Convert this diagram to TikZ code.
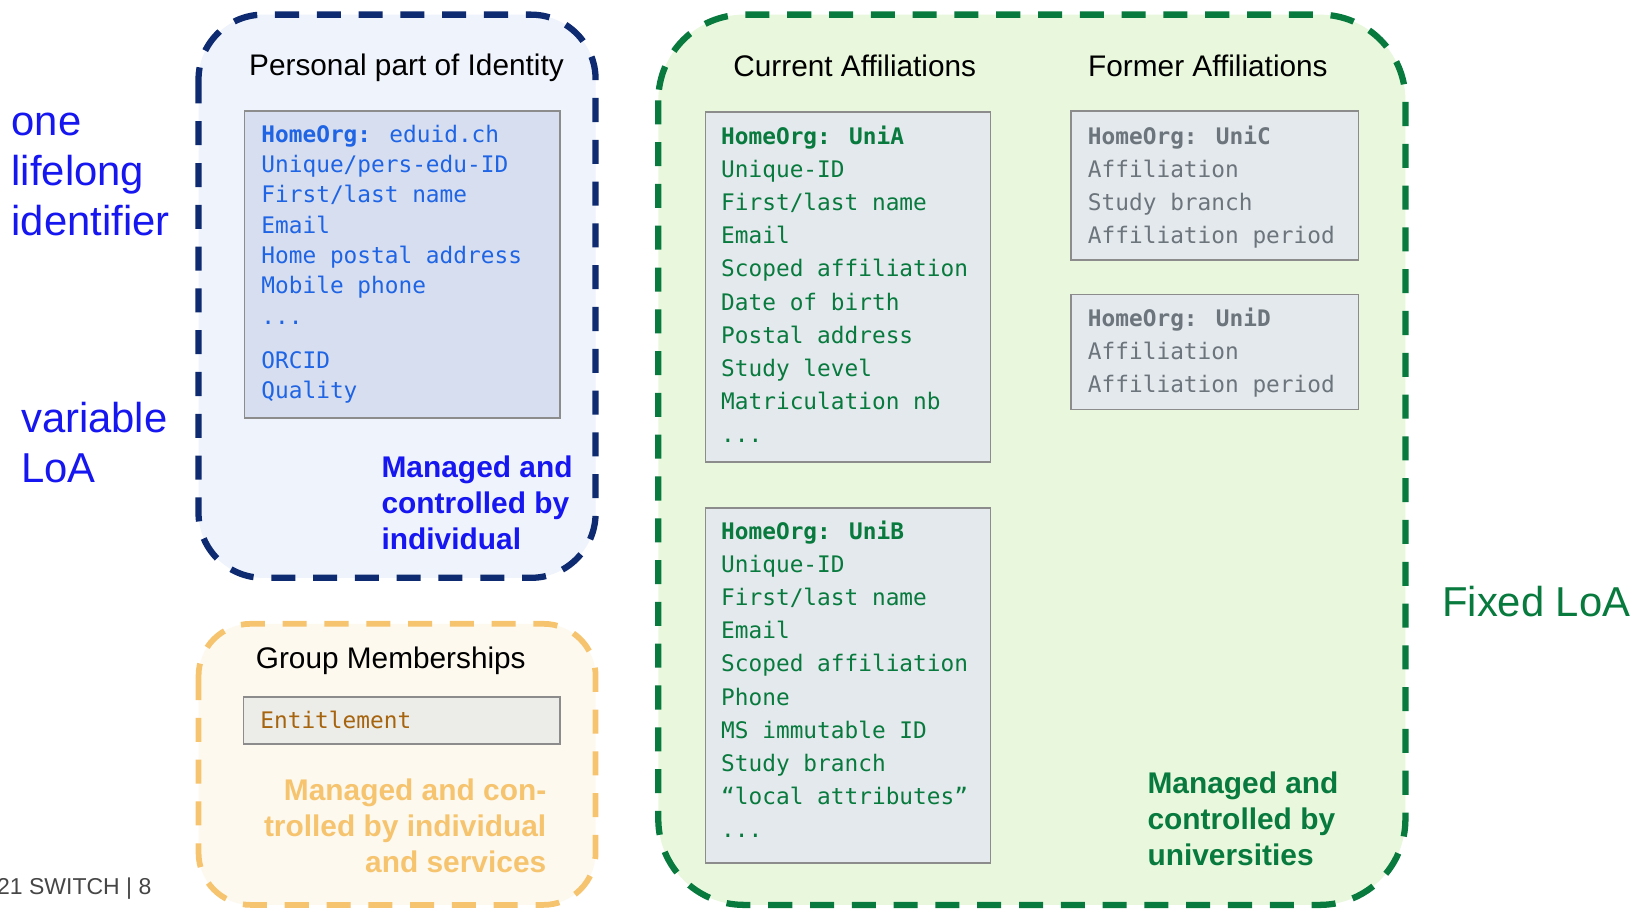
\documentclass[tikz,border=0pt]{standalone}
\usepackage{fontspec}
\setmainfont{Liberation Sans}
\newfontfamily\codefont{DejaVu Sans Mono}
\definecolor{navyc}{RGB}{14,42,112}
\definecolor{bluebg}{RGB}{238,243,252}
\definecolor{blueinner}{RGB}{215,222,240}
\definecolor{codeblue}{RGB}{30,100,228}
\definecolor{pureblue}{RGB}{22,22,240}
\definecolor{orangec}{RGB}{246,196,110}
\definecolor{orangebg}{RGB}{253,249,239}
\definecolor{grayinner}{RGB}{236,236,232}
\definecolor{brownc}{RGB}{166,100,14}
\definecolor{greenc}{RGB}{8,122,62}
\definecolor{greenbg}{RGB}{233,248,220}
\definecolor{greeninner}{RGB}{228,233,237}
\definecolor{greytext}{RGB}{108,116,124}
\definecolor{boxborder}{RGB}{140,140,140}
\definecolor{footgray}{RGB}{70,70,70}
\begin{document}
\begin{tikzpicture}[x=1bp,y=-1bp,
  outer/.style={line width=6bp, dash pattern=on 23bp off 17bp},
  attrbox/.style={draw=boxborder, line width=1.5bp},
  title/.style={font=\fontsize{28.5bp}{34bp}\selectfont, anchor=base, inner sep=0pt},
  code/.style={font=\codefont\fontsize{21.8bp}{#1}\selectfont, align=left, inner sep=0pt, anchor=north west},
  code/.default=29bp,
  managed/.style={font=\bfseries\fontsize{28.6bp}{34.5bp}\selectfont, inner sep=0pt},
  side/.style={font=\fontsize{40bp}{48bp}\selectfont, inner sep=0pt, align=left, anchor=north west}
]
\useasboundingbox (0,0) rectangle (1567.6,869.9);
\fill[white] (0,0) rectangle (1567.6,869.9);

% ---------- Personal part (blue)
\draw[outer, draw=navyc, fill=bluebg, rounded corners=62bp] (190,14) rectangle (570,553);
\node[title] (tPers) at (389,72) {Personal part of Identity};
\filldraw[attrbox, fill=blueinner] (234,106) rectangle (536,400);
\node[code, text=codeblue] (persAttr) at (250,115.7) {\strut\textbf{HomeOrg:} eduid.ch\\Unique/pers-edu-ID\\First/last name\\Email\\Home postal address\\Mobile phone\\...\\[13bp]ORCID\\Quality};
\node[managed, text=pureblue, align=left, anchor=north west] (mgInd) at (365,432.85) {\strut Managed and\\controlled by\\individual};

% ---------- Group memberships (orange)
\draw[outer, line width=5.5bp, draw=orangec, fill=orangebg, rounded corners=50bp] (190,597) rectangle (570,866);
\node[title] (tGroup) at (374,640) {Group Memberships};
\filldraw[attrbox, fill=grayinner] (233,667) rectangle (536,712);
\node[font=\codefont\fontsize{21.8bp}{29bp}\selectfont, text=brownc, anchor=base west, inner sep=0pt] (ent) at (249,697) {Entitlement};
\node[managed, text=orangec, align=right, anchor=north east] (mgSrv) at (523,741.85) {\strut Managed and con-\\trolled by individual\\and services};

% ---------- Affiliations (green)
\draw[outer, draw=greenc, fill=greenbg, rounded corners=82bp] (630,14) rectangle (1345,866);
\node[title] (tCur) at (818,73) {Current Affiliations};
\node[title] (tFor) at (1156,73) {Former Affiliations};

\filldraw[attrbox, fill=greeninner] (675,107) rectangle (948,442);
\node[code=31.7bp, text=greenc] (uniA) at (690,115.8) {\strut\textbf{HomeOrg: UniA}\\Unique-ID\\First/last name\\Email\\Scoped affiliation\\Date of birth\\Postal address\\Study level\\Matriculation nb\\...};

\filldraw[attrbox, fill=greeninner] (675,486) rectangle (948,826);
\node[code=31.7bp, text=greenc] (uniB) at (690,493.8) {\strut\textbf{HomeOrg: UniB}\\Unique-ID\\First/last name\\Email\\Scoped affiliation\\Phone\\MS immutable ID\\Study branch\\“local attributes”\\...};

\filldraw[attrbox, fill=greeninner] (1025,106) rectangle (1300,249);
\node[code=31.7bp, text=greytext] (uniC) at (1041,115.8) {\strut\textbf{HomeOrg: UniC}\\Affiliation\\Study branch\\Affiliation period};

\filldraw[attrbox, fill=greeninner] (1025,282) rectangle (1300,392);
\node[code=31.7bp, text=greytext] (uniD) at (1041,289.8) {\strut\textbf{HomeOrg: UniD}\\Affiliation\\Affiliation period};

\node[managed, text=greenc, align=left, anchor=north west] (mgUni) at (1098,734.85) {\strut Managed and\\controlled by\\universities};

% ---------- side labels
\node[side, text=pureblue] (lifelong) at (11,95.4) {\strut one\\lifelong\\identifier};
\node[side, text=pureblue] (varLoA) at (20,380.4) {\strut variable\\LoA};
\node[font=\fontsize{40bp}{48bp}\selectfont, text=greenc, anchor=base west, inner sep=0pt] (fixLoA) at (1380,590) {Fixed LoA};
\node[font=\fontsize{22bp}{26bp}\selectfont, text=footgray, anchor=base east, inner sep=0pt] (foot) at (145,856) {21 SWITCH | 8};
\end{tikzpicture}
\end{document}
